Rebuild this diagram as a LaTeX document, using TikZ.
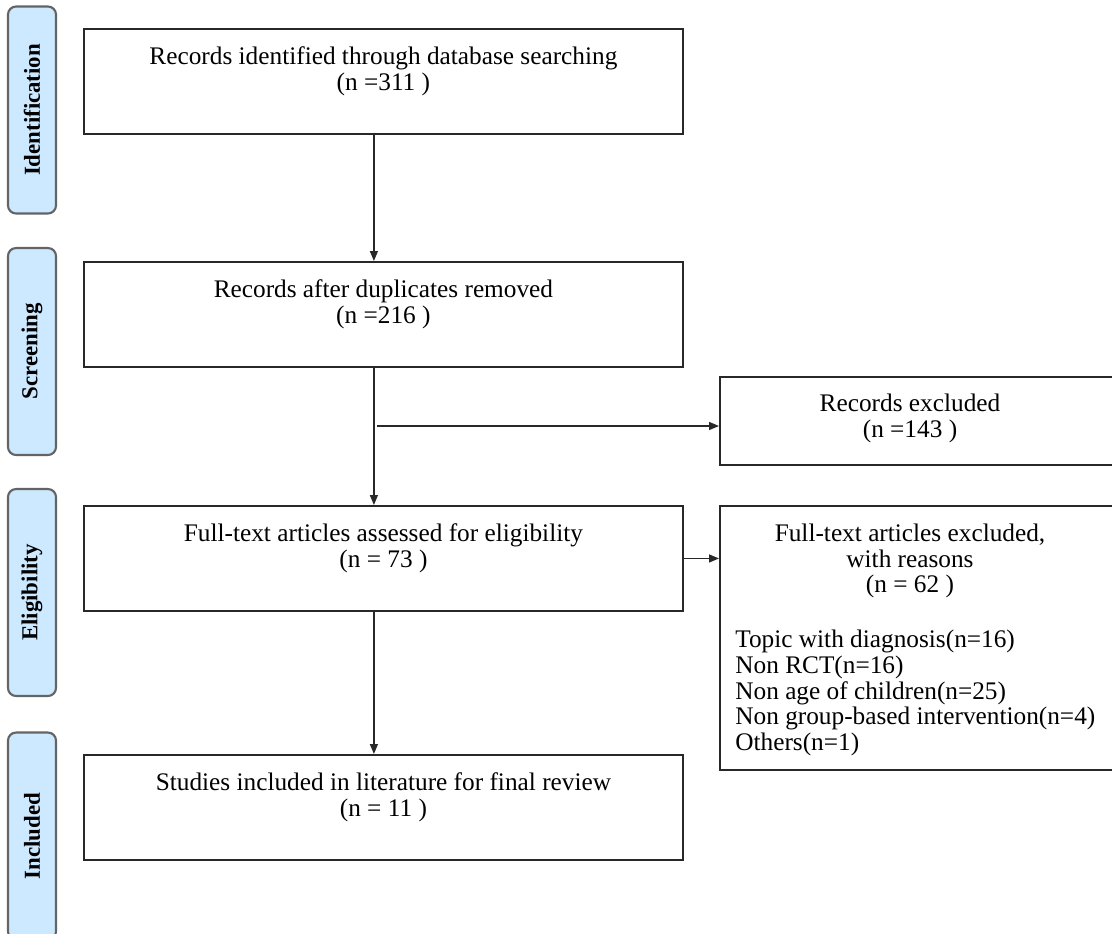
\documentclass[tikz,border=0pt]{standalone}
\usepackage{fontspec}
\setmainfont{Liberation Serif}
\usepackage{tikz}
\usepackage{xcolor}
\usetikzlibrary{arrows.meta, positioning, calc}
\definecolor{stagefill}{RGB}{204, 233, 255}
\definecolor{stageline}{RGB}{100, 100, 100}
\definecolor{boxline}{RGB}{40, 40, 40}

\begin{document}
\begin{tikzpicture}[x=0.02cm, y=-0.02cm,
    stage/.style={rectangle, rounded corners=0.16cm, draw=stageline, line width=1.2pt,
                  fill=stagefill, minimum width=4.14cm, minimum height=0.96cm, rotate=90,
                  font=\fontsize{13}{15}\selectfont\bfseries},
    box/.style={rectangle, draw=boxline, line width=1.1pt, anchor=north west,
                minimum width=11.98cm, minimum height=2.1cm, align=center,
                font=\fontsize{14.4}{14.74}\selectfont},
    sidebox/.style={rectangle, draw=boxline, line width=1.1pt, anchor=north west,
                    minimum width=8.4cm},
    txt/.style={inner sep=0pt, font=\fontsize{14.4}{14.74}\selectfont},
    flow/.style={-{Triangle[length=2mm, width=1.6mm]}, line width=0.8pt, draw=boxline}]

    \useasboundingbox (0,0) rectangle (1112,933);

    % Stages
    \node[stage] (sident) at (32, 110) {Identification};
    \node[stage] (sscreen) at (32, 351.5) {Screening};
    \node[stage] (selig) at (32, 592.5) {Eligibility};
    \node[stage] (sincl) at (32, 836) {Included};

    % Process
    \node[box] (ident) at (83, 28) {Records identified through database searching\\(n =311 )\\~};
    \node[box] (dup) at (83, 261) {Records after duplicates removed\\(n =216 )\\~};
    \node[box] (elig) at (83, 505) {Full-text articles assessed for eligibility\\(n = 73 )\\~};
    \node[box] (incl) at (83, 754) {Studies included in literature for final review\\(n = 11 )\\~};

    % Exclusions
    \node[sidebox, minimum height=1.76cm] (recex) at (719, 376) {};
    \node[txt, align=center] (recextxt) at (910, 418.5) {Records excluded\\(n =143 )};
    \node[sidebox, minimum height=5.28cm] (ftex) at (719, 505) {};
    \node[txt, align=center] (ftexhead) at (910, 561) {Full-text articles excluded,\\with reasons\\(n = 62 )};
    \node[txt, align=left, anchor=west] (ftexlist) at (735, 693)
        {Topic with diagnosis(n=16)\\Non RCT(n=16)\\Non age of children(n=25)\\Non group-based intervention(n=4)\\Others(n=1)};

    % Arrows
    \coordinate (split) at (377, 426);
    \draw[flow] ([xshift=-0.19cm]ident.south) -- ([xshift=-0.19cm]dup.north);
    \draw[flow] ([xshift=-0.19cm]dup.south) -- ([xshift=-0.19cm]elig.north);
    \draw[flow] ([xshift=-0.19cm]elig.south) -- ([xshift=-0.19cm]incl.north);
    \draw[flow] (split) -- (split -| recex.west);
    \draw[flow] (elig.east) -- (elig.east -| ftex.west);
\end{tikzpicture}
\end{document}
